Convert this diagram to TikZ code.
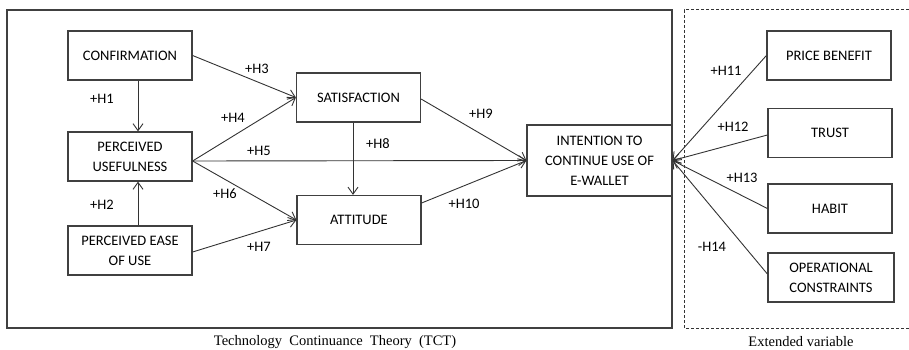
\documentclass[tikz,border=0pt]{standalone}
\usepackage{fontspec}
\setmainfont{Liberation Serif}
\newfontfamily\boxfont{Carlito}
\usetikzlibrary{arrows.meta}

\begin{document}
\begin{tikzpicture}[x=1pt, y=-1pt, line width=0.9pt, draw=black!80,
        varbox/.style = {draw=black!75, line width=1.2pt, minimum width=124pt, minimum height=49pt,
            align=center, inner sep=2pt, font=\boxfont\fontsize{14.5}{20}\selectfont},
        hyp/.style = {font=\boxfont\fontsize{14.5}{17}\selectfont},
        link/.style = {draw=black!80, line width=0.9pt, -{Straight Barb[length=7pt, width=10pt]}}]
        \useasboundingbox (0,0) rectangle (909,350);

        % frames
        \draw [black!75, line width=1.2pt] (7,10) rectangle (672,328);
        \draw [black!80, line width=1pt, dash pattern=on 3pt off 2pt] (909,10) -- (684,10) -- (684,328) -- (909,328);
        \node [font=\fontsize{14.5}{17}\selectfont] (tct) at (335,342) {Technology~ Continuance~ Theory~ (TCT)};
        \node [font=\fontsize{14.5}{17}\selectfont] (ext) at (801,342) {Extended variable};

        % variables
        \node [varbox] (conf) at (130,55.5) {CONFIRMATION};
        \node [varbox] (pu) at (130,156.5) {PERCEIVED\\USEFULNESS};
        \node [varbox] (peou) at (130,250.5) {PERCEIVED EASE\\OF USE};
        \node [varbox] (sat) at (358.5,97.5) {SATISFACTION};
        \node [varbox] (att) at (359,220) {ATTITUDE};
        \node [varbox, minimum width=145pt, minimum height=71pt] (int) at (599.5,160.5) {INTENTION TO\\CONTINUE USE OF\\E-WALLET};
        \node [varbox] (price) at (829,55.5) {PRICE BENEFIT};
        \node [varbox] (trust) at (830,133) {TRUST};
        \node [varbox] (habit) at (830,208.5) {HABIT};
        \node [varbox, minimum width=126pt] (oper) at (831,277.5) {OPERATIONAL\\CONSTRAINTS};

        % paths
        \draw [link] ([xshift=8pt]conf.south) -- ([xshift=8pt]pu.north);
        \draw [link] ([xshift=8pt]peou.north) -- ([xshift=8pt]pu.south);
        \draw [link] (conf.east) -- (sat.west);
        \draw [link] ([yshift=-4.5pt]pu.east) -- (sat.west);
        \draw [link] ([yshift=-4.5pt]pu.east) -- (int.west);
        \draw [link] ([yshift=-4.5pt]pu.east) -- (att.west);
        \draw [link] ([yshift=-1.5pt]peou.east) -- (att.west);
        \draw [link] ([xshift=-5.5pt]sat.south) -- ([xshift=-6pt]att.north);
        \draw [link] ([yshift=-1.5pt]sat.east) -- (int.west);
        \draw [link] ([yshift=17pt]att.east) -- (int.west);
        \draw [link] (price.west) -- (int.east);
        \draw [link] ([yshift=-2pt]trust.west) -- (int.east);
        \draw [link] (habit.west) -- (int.east);
        \draw [link] ([yshift=3.5pt]oper.west) -- (int.east);

        % hypotheses
        \node [hyp] (h1) at (102,99) {+H1};
        \node [hyp] (h2) at (102,205) {+H2};
        \node [hyp] (h3) at (257,69) {+H3};
        \node [hyp] (h4) at (233,118) {+H4};
        \node [hyp] (h5) at (259,151) {+H5};
        \node [hyp] (h6) at (225,194) {+H6};
        \node [hyp] (h7) at (259,247) {+H7};
        \node [hyp] (h8) at (378,144) {+H8};
        \node [hyp] (h9) at (481,114) {+H9};
        \node [hyp] (h10) at (464,204) {+H10};
        \node [hyp] (h11) at (726,71) {+H11};
        \node [hyp] (h12) at (733,127) {+H12};
        \node [hyp] (h13) at (742,178) {+H13};
        \node [hyp] (h14) at (712,247) {-H14};
    \end{tikzpicture}
\end{document}
